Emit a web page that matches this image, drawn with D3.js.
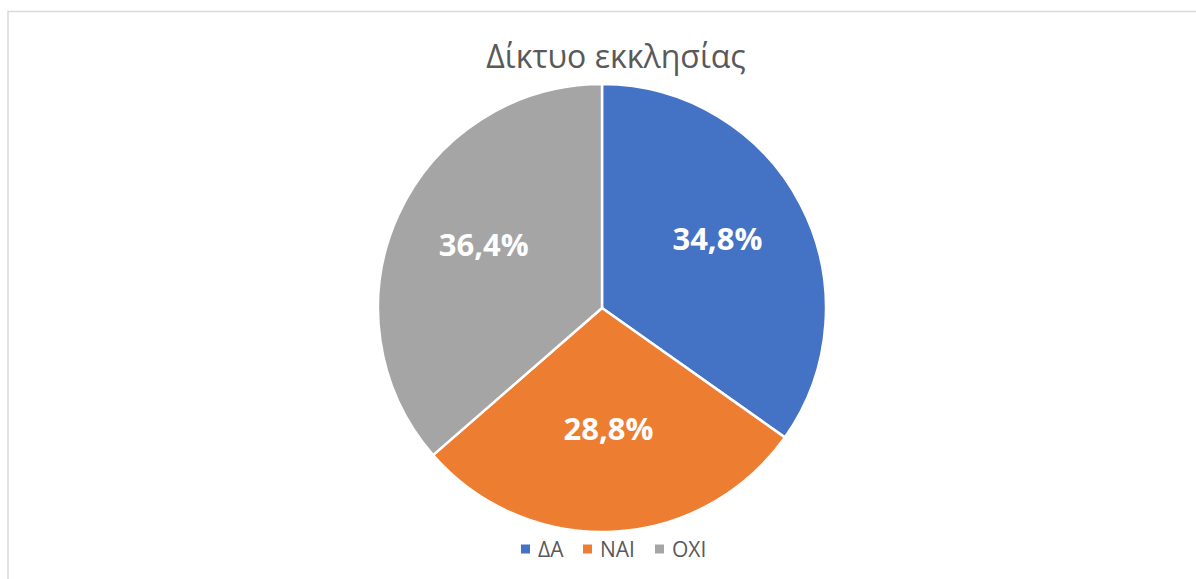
<!DOCTYPE html>
<html>
<head>
<meta charset="utf-8">
<script src="https://cdn.jsdelivr.net/npm/d3@7"></script>
<style>
  body { margin: 0; background: #fff; }
  svg { display: block; }
</style>
</head>
<body>
<div id="chart"></div>
<script>
// chart data
const title = "Δίκτυο εκκλησίας";
const categories = ["ΔΑ", "ΝΑΙ", "ΟΧΙ"];
const values = [34.8, 28.8, 36.4];
const colors = ["#4472C4", "#ED7D31", "#A5A5A5"];

const width = 1196, height = 579;
const cx = 602, cy = 308, radius = 224;

const svg = d3.select("#chart")
    .append("svg")
    .attr("width", width)
    .attr("height", height);

    // chart area border (runs off right and bottom edges)
svg.append("rect")
    .attr("x", 8)
    .attr("y", 11.5)
    .attr("width", width + 20)
    .attr("height", height + 20)
    .attr("fill", "#fff")
    .attr("stroke", "#D9D9D9")
    .attr("stroke-width", 1.5);

svg.append("text")
    .attr("x", 616)
    .attr("y", 68)
    .attr("text-anchor", "middle")
    .attr("font-family", "'Open Sans', 'Noto Sans', sans-serif")
    .attr("font-size", 32)
    .attr("fill", "#595959")
    .text(title);

const data = categories.map((c, i) => ({ name: c, value: values[i], color: colors[i] }));

const pie = d3.pie()
    .sort(null)
    .value(d => d.value);

const arc = d3.arc()
    .innerRadius(0)
    .outerRadius(radius);

const labelArc = d3.arc()
    .innerRadius(radius * 0.58)
    .outerRadius(radius * 0.58);

const g = svg.append("g")
    .attr("transform", `translate(${cx},${cy})`);

const arcs = pie(data);

g.selectAll("path")
    .data(arcs)
    .enter()
    .append("path")
    .attr("d", arc)
    .attr("fill", d => d.data.color)
    .attr("stroke", "#fff")
    .attr("stroke-width", 2.5)
    .attr("stroke-linejoin", "round");

g.selectAll(".lbl")
    .data(arcs)
    .enter()
    .append("text")
    .attr("class", "lbl")
    .attr("transform", d => {
        const c = labelArc.centroid(d);
        return `translate(${c[0]},${c[1] - 9})`;
    })
    .attr("text-anchor", "middle")
    .attr("dy", "0.36em")
    .attr("font-family", "'Open Sans', 'Noto Sans', sans-serif")
    .attr("font-weight", "bold")
    .attr("font-size", 31)
    .attr("fill", "#fff")
    .text(d => d3.format(".1f")(d.data.value).replace(".", ",") + "%");

    // legend
const legendX = [521, 583, 655];
const legend = svg.append("g").attr("class", "legend");

const item = legend.selectAll("g")
    .data(data)
    .enter()
    .append("g")
    .attr("transform", (d, i) => `translate(${legendX[i]},549)`);

item.append("rect")
    .attr("x", 0)
    .attr("y", -4.5)
    .attr("width", 9)
    .attr("height", 9)
    .attr("fill", d => d.color);

item.append("text")
    .attr("x", 17)
    .attr("dy", "0.36em")
    .attr("font-family", "'Open Sans', 'Noto Sans', sans-serif")
    .attr("font-size", 21)
    .attr("fill", "#595959")
    .text(d => d.name);
</script>
</body>
</html>
